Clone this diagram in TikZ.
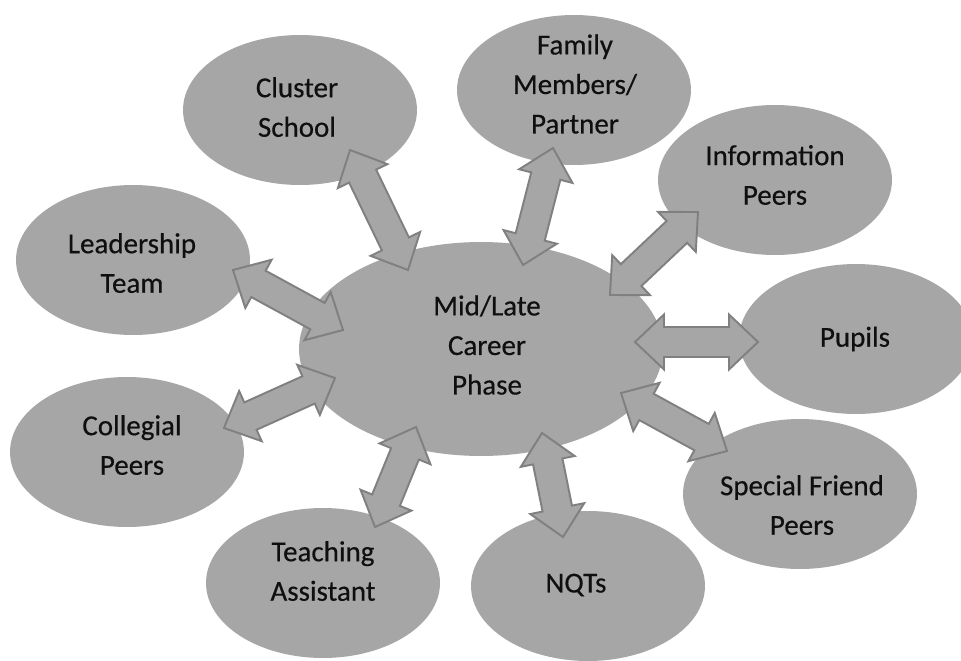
\documentclass[tikz,border=0pt]{standalone}
\usepackage{fontspec}
\setmainfont{Carlito}[FakeBold=0.4]
\usepackage{tikz}
\usetikzlibrary{calc,shapes.geometric}
\definecolor{cBubble}{RGB}{166,166,166}
\definecolor{cEdge}{RGB}{128,128,128}
\definecolor{cText}{RGB}{15,15,15}
\newcommand{\headlen}{0.58cm}
\newcommand{\headwid}{0.55cm}
\newcommand{\shaftwid}{0.3cm}
\tikzset{
  bubble/.style={ellipse,fill=cBubble,inner sep=0pt,minimum width=4.68cm,minimum height=3cm},
  lbl/.style={text=cText,align=center,font=\fontsize{16.5}{22.5}\selectfont},
  blockarrow/.style={fill=cBubble,draw=cEdge,line width=1.1pt,line join=miter,
    to path={let \p1=(\tikztostart),\p2=(\tikztotarget),\n1={atan2(\y2-\y1,\x2-\x1)} in
      (\p1) -- ($(\p1)+(\n1:\headlen)+(\n1+90:\headwid)$)
      -- ($(\p1)+(\n1:\headlen)+(\n1+90:\shaftwid)$)
      -- ($(\p2)+(\n1+180:\headlen)+(\n1+90:\shaftwid)$)
      -- ($(\p2)+(\n1+180:\headlen)+(\n1+90:\headwid)$)
      -- (\p2)
      -- ($(\p2)+(\n1+180:\headlen)+(\n1-90:\headwid)$)
      -- ($(\p2)+(\n1+180:\headlen)+(\n1-90:\shaftwid)$)
      -- ($(\p1)+(\n1:\headlen)+(\n1-90:\shaftwid)$)
      -- ($(\p1)+(\n1:\headlen)+(\n1-90:\headwid)$) -- cycle}}
}

\begin{document}
\begin{tikzpicture}[x=0.02cm,y=-0.02cm]
  \useasboundingbox[fill=white] (0,0) rectangle (961,660);

  \node[bubble,minimum width=7.28cm,minimum height=4.28cm] (mid) at (481,349) {};
  \node[bubble] (cluster) at (300,110) {};
  \node[bubble] (family) at (574,90) {};
  \node[bubble] (info) at (775,180) {};
  \node[bubble] (pupils) at (856,339) {};
  \node[bubble] (special) at (800,494) {};
  \node[bubble] (nqts) at (588,586) {};
  \node[bubble] (teaching) at (323,583) {};
  \node[bubble] (collegial) at (127,452) {};
  \node[bubble] (leader) at (133,260) {};

  \coordinate (cluster-a) at (350,150);  \coordinate (cluster-b) at (408,270);
  \coordinate (family-a) at (553,148);   \coordinate (family-b) at (523,265);
  \coordinate (info-a) at (698,212);     \coordinate (info-b) at (610,295);
  \coordinate (pupils-a) at (758,342);   \coordinate (pupils-b) at (635,342);
  \coordinate (special-a) at (727,451);  \coordinate (special-b) at (621,393);
  \coordinate (nqts-a) at (563,537);     \coordinate (nqts-b) at (542,433);
  \coordinate (teaching-a) at (375,527); \coordinate (teaching-b) at (416,427);
  \coordinate (collegial-a) at (224,428);\coordinate (collegial-b) at (335,378);
  \coordinate (leader-a) at (233,270);   \coordinate (leader-b) at (343,330);

  \draw[blockarrow] (cluster-a) to (cluster-b);
  \draw[blockarrow] (family-a) to (family-b);
  \draw[blockarrow] (info-a) to (info-b);
  \draw[blockarrow] (pupils-a) to (pupils-b);
  \draw[blockarrow] (special-a) to (special-b);
  \draw[blockarrow] (nqts-a) to (nqts-b);
  \draw[blockarrow] (teaching-a) to (teaching-b);
  \draw[blockarrow] (collegial-a) to (collegial-b);
  \draw[blockarrow] (leader-a) to (leader-b);

  \node[lbl] (mid-t) at (487,345) {Mid/Late\\Career\\Phase};
  \node[lbl] (cluster-t) at (297,107) {Cluster\\School};
  \node[lbl] (family-t) at (575,84) {Family\\Members/\\Partner};
  \node[lbl] (info-t) at (775,175) {Information\\Peers};
  \node[lbl] (pupils-t) at (855,339) {Pupils};
  \node[lbl] (special-t) at (802,505) {Special Friend\\Peers};
  \node[lbl] (nqts-t) at (576,585) {NQTs};
  \node[lbl] (teaching-t) at (323,571) {Teaching\\Assistant};
  \node[lbl] (collegial-t) at (132,445) {Collegial\\Peers};
  \node[lbl] (leader-t) at (132,263) {Leadership\\Team};
\end{tikzpicture}
\end{document}
